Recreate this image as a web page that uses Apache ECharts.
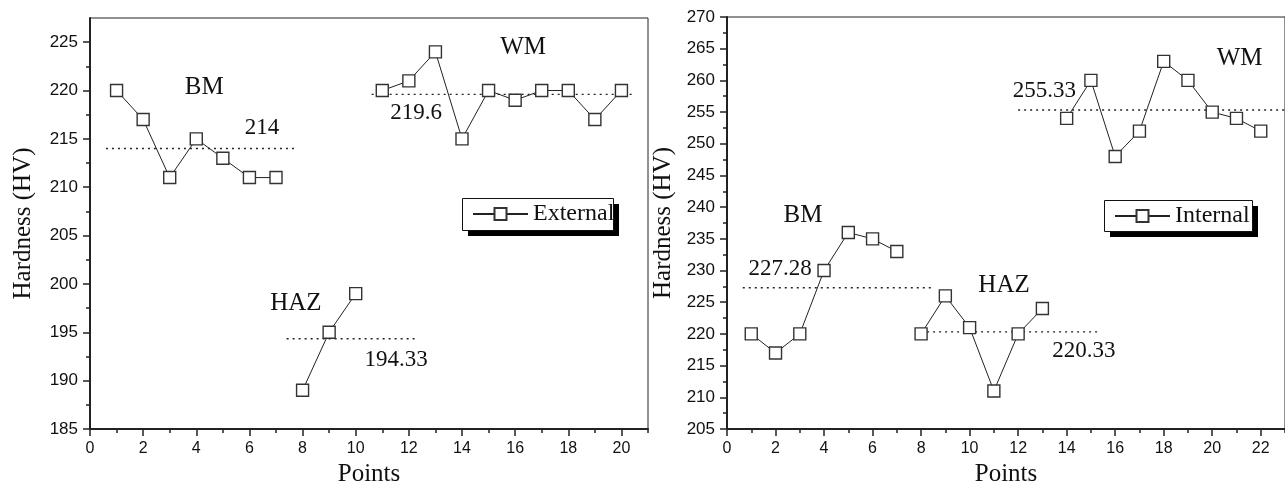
<!DOCTYPE html>
<html>
<head>
<meta charset="utf-8">
<script src="https://cdn.jsdelivr.net/npm/echarts@6/dist/echarts.min.js"></script>
<style>
  html, body { margin: 0; padding: 0; background: #fff; }
  #chart { width: 1285px; height: 492px; }
</style>
</head>
<body>
<div id="chart"></div>
<script>
// Hardness (HV) across base metal, heat-affected zone and weld metal,
// measured along the external (left panel) and internal (right panel) surfaces.
const extBM  = [220, 217, 211, 215, 213, 211, 211];
const extHAZ = [189, 195, 199];
const extWM  = [220, 221, 224, 215, 220, 219, 220, 220, 217, 220];
const intBM  = [220, 217, 220, 230, 236, 235, 233];
const intHAZ = [220, 226, 221, 211, 220, 224];
const intWM  = [254, 260, 248, 252, 263, 260, 255, 254, 252];

// index of the first point of each zone
const extStart = [1, 8, 11];
const intStart = [1, 8, 14];

const zoneNames = ['BM', 'HAZ', 'WM'];
const extMeans = [214, 194.33, 219.6];
const intMeans = [227.28, 220.33, 255.33];
// horizontal extent of each average line (in points)
const extMeanSpan = [[0.6, 7.8], [7.4, 12.3], [10.6, 20.5]];
const intMeanSpan = [[0.65, 8.5], [8, 15.3], [12, 23]];

// anchor of each zone name and average value (data units)
const extNamePos = [[4.3, 220.3], [7.75, 198.0], [16.3, 224.5]];
const extMeanPos = [[6.47, 216.1], [11.52, 192.1], [12.27, 217.7]];
const intNamePos = [[3.13, 238.7], [11.42, 227.7], [21.13, 263.5]];
const intMeanPos = [[2.19, 230.2], [14.71, 217.25], [13.08, 258.4]];

// tick values
const extXMajor = [0, 2, 4, 6, 8, 10, 12, 14, 16, 18, 20];
const extXMinor = [1, 3, 5, 7, 9, 11, 13, 15, 17, 19, 21];
const extYMajor = [185, 190, 195, 200, 205, 210, 215, 220, 225];
const extYMinor = [187.5, 192.5, 197.5, 202.5, 207.5, 212.5, 217.5, 222.5];
const intXMajor = [0, 2, 4, 6, 8, 10, 12, 14, 16, 18, 20, 22];
const intXMinor = [1, 3, 5, 7, 9, 11, 13, 15, 17, 19, 21, 23];
const intYMajor = [205, 210, 215, 220, 225, 230, 235, 240, 245, 250, 255, 260, 265, 270];
const intYMinor = [207.5, 212.5, 217.5, 222.5, 227.5, 232.5, 237.5, 242.5, 247.5, 252.5, 257.5, 262.5, 267.5];

const SERIF = 'Liberation Serif, Times New Roman, serif';
const SANS = 'Liberation Sans, Arial, sans-serif';
const INK = '#111';

function xAxes(grid, min, max, major, minor) {
  return [
    {
      gridIndex: grid, type: 'value', min: min, max: max, position: 'bottom',
      name: 'Points', nameLocation: 'middle', nameGap: 33,
      nameTextStyle: { fontFamily: SERIF, fontSize: 25, color: INK },
      axisLine: { show: true, onZero: false, lineStyle: { color: '#222', width: 2 } },
      axisTick: { show: true, length: 7, customValues: major, lineStyle: { color: '#222', width: 1.5 } },
      axisLabel: { show: true, customValues: major, margin: 12, fontFamily: SANS, fontSize: 16, color: INK },
      splitLine: { show: false }
    },
    {
      gridIndex: grid, type: 'value', min: min, max: max, position: 'bottom',
      axisLine: { show: false, onZero: false },
      axisTick: { show: true, length: 4, customValues: minor, lineStyle: { color: '#222', width: 1.5 } },
      axisLabel: { show: false },
      splitLine: { show: false }
    }
  ];
}

function yAxes(grid, min, max, major, minor, gap) {
  return [
    {
      gridIndex: grid, type: 'value', min: min, max: max, position: 'left',
      name: 'Hardness (HV)', nameLocation: 'middle', nameGap: gap,
      nameTextStyle: { fontFamily: SERIF, fontSize: 25, color: INK },
      axisLine: { show: true, onZero: false, lineStyle: { color: '#222', width: 2 } },
      axisTick: { show: true, length: 7, customValues: major, lineStyle: { color: '#222', width: 1.5 } },
      axisLabel: { show: true, customValues: major, margin: 12, fontFamily: SANS, fontSize: 17, color: INK },
      splitLine: { show: false }
    },
    {
      gridIndex: grid, type: 'value', min: min, max: max, position: 'left',
      axisLine: { show: false, onZero: false },
      axisTick: { show: true, length: 4, customValues: minor, lineStyle: { color: '#222', width: 1.5 } },
      axisLabel: { show: false },
      splitLine: { show: false }
    }
  ];
}

function zoneSeries(name, axis, zones, starts) {
  return zones.map(function (vals, k) {
    return {
      name: name, type: 'line',
      xAxisIndex: axis, yAxisIndex: axis,
      data: vals.map(function (v, i) { return [starts[k] + i, v]; }),
      symbol: 'rect', symbolSize: 12,
      itemStyle: { color: '#fff', borderColor: '#333', borderWidth: 1.4 },
      lineStyle: { color: '#222', width: 1 },
      z: 3
    };
  });
}

function meanSeries(axis, means, spans) {
  return means.map(function (m, k) {
    return {
      name: 'Average', type: 'line',
      xAxisIndex: axis, yAxisIndex: axis,
      data: [[spans[k][0], m], [spans[k][1], m]],
      symbol: 'none', silent: true,
      lineStyle: { color: '#222', width: 1.4, type: [2, 4] },
      z: 2
    };
  });
}

function noteSeries(axis, names, namePos, means, meanPos) {
  const items = [];
  names.forEach(function (n, k) {
    items.push({ value: namePos[k], label: { formatter: n, fontSize: 25 } });
    items.push({ value: meanPos[k], label: { formatter: String(means[k]), fontSize: 23 } });
  });
  return {
    name: 'Notes', type: 'scatter',
    xAxisIndex: axis, yAxisIndex: axis,
    data: items, symbolSize: 1, silent: true,
    itemStyle: { color: 'transparent', opacity: 1 },
    label: { show: true, position: 'inside', fontFamily: SERIF, color: INK, opacity: 1 },
    z: 4
  };
}

function legendBox(name, left, top) {
  return {
    data: [name], left: left, top: top, orient: 'horizontal',
    selectedMode: false,
    backgroundColor: 'transparent', borderWidth: 0,
    padding: [4, 0, 0, 10],
    itemWidth: 55, itemHeight: 15, itemGap: 0,
    textStyle: { fontFamily: SERIF, fontSize: 24, color: INK },
    z: 6
  };
}

// framed legend panel with a solid drop shadow
function legendPanel(x, y, w, h) {
  return [
    { type: 'rect', left: x + 6, top: y + 6, z: 5, shape: { width: w, height: h }, style: { fill: '#000' } },
    { type: 'rect', left: x, top: y, z: 5, shape: { width: w, height: h }, style: { fill: '#fff', stroke: '#111', lineWidth: 1 } }
  ];
}

const chart = echarts.init(document.getElementById('chart'), null, { renderer: 'canvas' });

chart.setOption({
  animation: false,
  backgroundColor: '#fff',
  grid: [
    { left: 90, top: 18, width: 558, height: 415, show: true, borderColor: '#222', borderWidth: 1 },
    { left: 727, top: 17, width: 566, height: 419, show: true, borderColor: '#222', borderWidth: 1 }
  ],
  graphic: [].concat(
    legendPanel(462, 198, 151, 32),
    legendPanel(1104, 200, 148, 31)
  ),
  legend: [
    legendBox('External', 462, 198),
    legendBox('Internal', 1104, 200)
  ],
  xAxis: [].concat(
    xAxes(0, 0, 21, extXMajor, extXMinor),
    xAxes(1, 0, 23, intXMajor, intXMinor)
  ),
  yAxis: [].concat(
    yAxes(0, 185, 227.5, extYMajor, extYMinor, 54),
    yAxes(1, 205, 270, intYMajor, intYMinor, 51)
  ),
  series: [].concat(
    meanSeries(0, extMeans, extMeanSpan),
    zoneSeries('External', 0, [extBM, extHAZ, extWM], extStart),
    noteSeries(0, zoneNames, extNamePos, extMeans, extMeanPos),
    meanSeries(2, intMeans, intMeanSpan),
    zoneSeries('Internal', 2, [intBM, intHAZ, intWM], intStart),
    noteSeries(2, zoneNames, intNamePos, intMeans, intMeanPos)
  )
});
</script>
</body>
</html>
